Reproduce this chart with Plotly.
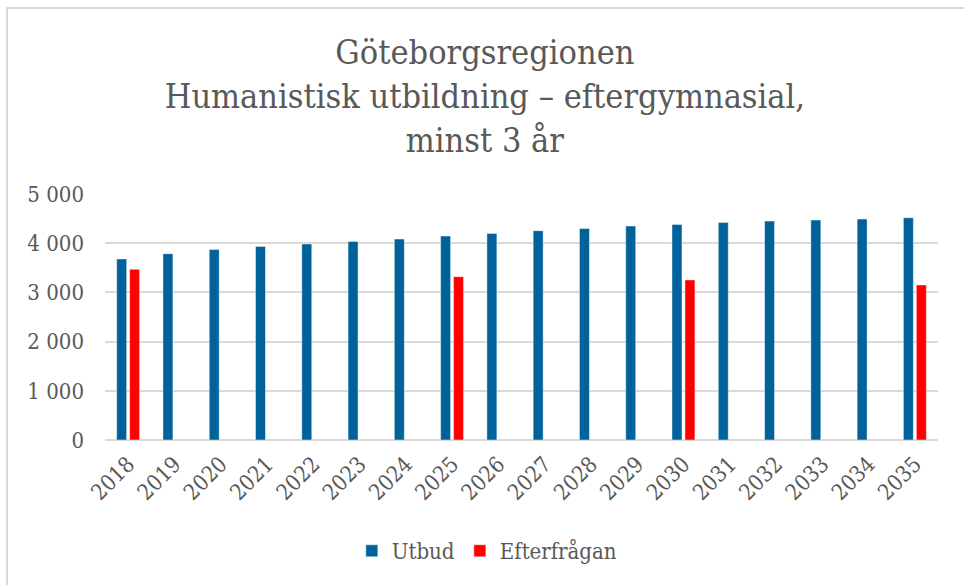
import plotly.graph_objects as go

years = ["2018", "2019", "2020", "2021", "2022", "2023", "2024", "2025", "2026",
         "2027", "2028", "2029", "2030", "2031", "2032", "2033", "2034", "2035"]
utbud = [3680, 3787, 3874, 3935, 3983, 4037, 4085, 4146, 4199,
         4254, 4300, 4349, 4381, 4422, 4450, 4471, 4491, 4517]
efterfragan = [3469, None, None, None, None, None, None, 3320, None,
               None, None, None, 3253, None, None, None, None, 3152]
y_ticks = [0, 1000, 2000, 3000, 4000, 5000]
y_tick_text = ["0", "1 000", "2 000", "3 000", "4 000", "5 000"]

FONT = "DejaVu Serif Condensed, DejaVu Serif, serif"
GREY = "#595959"

fig = go.Figure()
fig.add_trace(go.Bar(
    x=years, y=utbud, name="Utbud",
    marker=dict(color="#00629B", line=dict(color="rgba(255,255,255,0.45)", width=1)),
))
fig.add_trace(go.Bar(
    x=years, y=efterfragan, name="Efterfrågan",
    marker=dict(color="#FF0000", line=dict(color="rgba(255,255,255,0.45)", width=1)),
))

L, R, T, B = 105, 26, 194, 145
W, H = 964, 585
pw, ph = W - L - R, H - T - B

fig.update_layout(
    width=W, height=H,
    margin=dict(l=L, r=R, t=T, b=B, autoexpand=False),
    paper_bgcolor="white", plot_bgcolor="white",
    barmode="group", bargap=0.44, bargroupgap=0.23,
    font=dict(family=FONT, color=GREY, size=22),
    title=dict(
        text="Göteborgsregionen<br>Humanistisk utbildning – eftergymnasial,<br>minst 3 år",
        x=0.503, xanchor="center", y=1 - 64 / H, yanchor="top",
        font=dict(family=FONT, size=34, color=GREY),
    ),
    xaxis=dict(
        type="category", tickangle=-45, showgrid=False, showline=False,
        ticks="", tickfont=dict(size=22, color=GREY), ticklabelstandoff=6,
    ),
    yaxis=dict(
        range=[0, 5000], tickvals=y_ticks, ticktext=y_tick_text,
        showgrid=True, gridcolor="#D9D9D9", gridwidth=1.5,
        zeroline=True, zerolinecolor="#D9D9D9", zerolinewidth=1.5,
        showline=False, ticks="", ticklabelstandoff=20,
        tickfont=dict(size=22, color=GREY),
    ),
    legend=dict(
        orientation="h", xref="container", x=0.505, xanchor="center",
        y=-111 / ph, yanchor="middle",
        font=dict(size=22, color=GREY),
    ),
    showlegend=True,
)

fig.add_shape(
    type="rect", xref="paper", yref="paper",
    x0=(7 - L) / pw, x1=(W + 10 - L) / pw,
    y0=(H - B - (H + 10)) / ph, y1=(H - B - 8) / ph,
    line=dict(color="#D9D9D9", width=2), fillcolor="rgba(0,0,0,0)",
    layer="below",
)

fig.write_html(
    "out.html",
    config={"displayModeBar": False},
    post_script="document.body.style.margin='0';document.body.style.overflow='hidden';",
)
